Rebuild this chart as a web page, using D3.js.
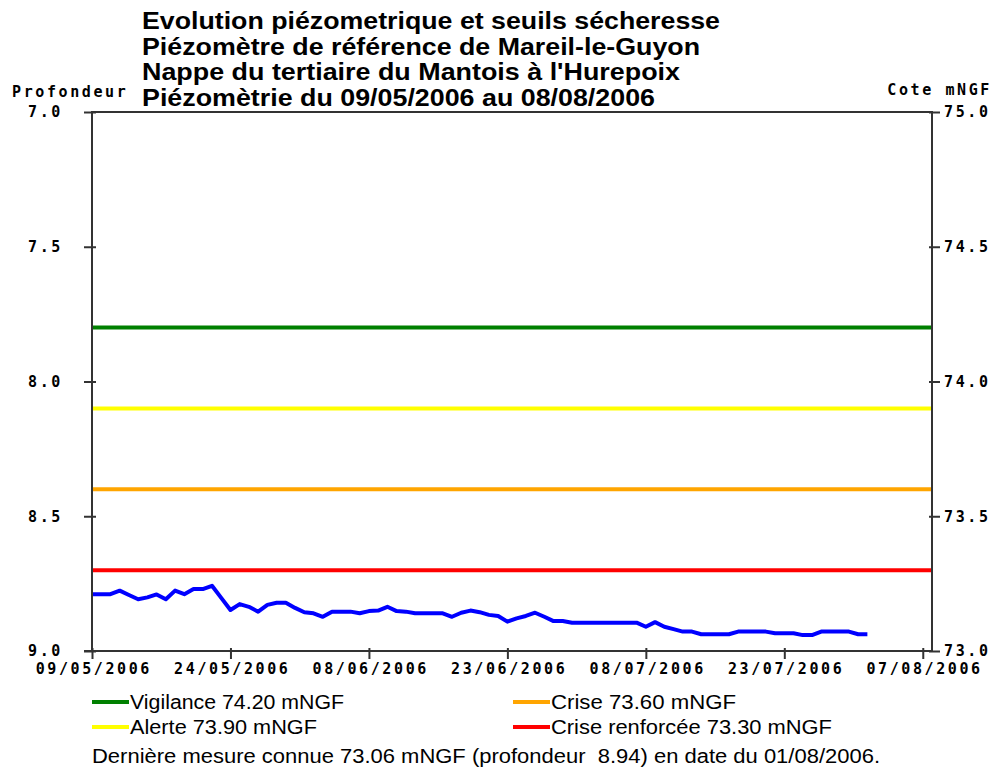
<!DOCTYPE html>
<html><head><meta charset="utf-8">
<script src="https://cdn.jsdelivr.net/npm/d3@7"></script>
<style>
body{margin:0;background:#fff}
svg{display:block}
.mono{font-family:"DejaVu Sans Mono",monospace;font-weight:bold;font-size:15px;letter-spacing:2.6px;fill:#000}
.title{font-family:"Liberation Sans",Arial,sans-serif;font-weight:bold;font-size:23px;fill:#000}
.leg{font-family:"Liberation Sans",Arial,sans-serif;font-size:20px;fill:#000;white-space:pre}
</style>
</head><body>
<svg id="c" width="995" height="767"></svg>
<script>
// ---- data ----
const titleLines = [
  "Evolution piézometrique et seuils sécheresse",
  "Piézomètre de référence de Mareil-le-Guyon",
  "Nappe du tertiaire du Mantois à l'Hurepoix",
  "Piézomètrie du 09/05/2006 au 08/08/2006"
];
const leftAxisTitle = "Profondeur";
const rightAxisTitle = "Cote mNGF";
const domainStart = "09/05/2006";
const domainEnd = "08/08/2006";
const tickDates = ["09/05/2006","24/05/2006","08/06/2006","23/06/2006","08/07/2006","23/07/2006","07/08/2006"];
const depthTicks = [7.0, 7.5, 8.0, 8.5, 9.0];
const coteTicks = [75.0, 74.5, 74.0, 73.5, 73.0];
const thresholdNames = ["Vigilance", "Alerte", "Crise", "Crise renforcée"];
const thresholdValues = [74.20, 73.90, 73.60, 73.30];
const thresholdColors = ["#008000", "#ffff00", "#ffa500", "#ff0000"];
const firstMeasureDate = "09/05/2006";
// daily water level (mNGF), from 09/05/2006 to 01/08/2006
const levels = [
  73.211,73.211,73.211,73.224,73.208,73.192,73.199,73.210,73.192,73.224,
  73.211,73.230,73.230,73.242,73.197,73.152,73.174,73.164,73.146,73.171,
  73.179,73.179,73.160,73.144,73.140,73.127,73.146,73.146,73.146,73.140,
  73.148,73.150,73.164,73.148,73.146,73.140,73.140,73.140,73.140,73.127,
  73.142,73.150,73.144,73.134,73.130,73.109,73.121,73.130,73.142,73.127,
  73.111,73.111,73.105,73.105,73.105,73.105,73.105,73.105,73.105,73.105,
  73.090,73.107,73.090,73.081,73.072,73.072,73.062,73.062,73.062,73.062,
  73.072,73.072,73.072,73.072,73.066,73.066,73.066,73.059,73.059,73.072,
  73.072,73.072,73.072,73.062,73.062
];
const footerText = "Dernière mesure connue 73.06 mNGF (profondeur  8.94) en date du 01/08/2006.";

// ---- layout ----
const W = 995, H = 767;
const m = {left: 92, right: 63, top: 112, bottom: 116};
const svg = d3.select("#c");
const parse = d3.timeParse("%d/%m/%Y");
const fmt = d3.timeFormat("%d/%m/%Y");

const x = d3.scaleTime().domain([parse(domainStart), parse(domainEnd)]).range([m.left, W - m.right]);
const yDepth = d3.scaleLinear().domain([7, 9]).range([m.top, H - m.bottom]);
const yCote = d3.scaleLinear().domain([75, 73]).range([m.top, H - m.bottom]);

const start = parse(firstMeasureDate);
const series = levels.map((v, i) => ({date: d3.timeDay.offset(start, i), v}));

// thresholds
svg.append("g").selectAll("line").data(thresholdValues).join("line")
  .attr("x1", m.left + 1).attr("x2", W - m.right - 1)
  .attr("y1", d => yCote(d)).attr("y2", d => yCote(d))
  .attr("stroke", (d, i) => thresholdColors[i]).attr("stroke-width", 4);

// series line
svg.append("path").datum(series)
  .attr("fill", "none").attr("stroke", "#0000ff").attr("stroke-width", 4)
  .attr("stroke-linejoin", "round")
  .attr("d", d3.line().x(d => x(d.date)).y(d => yCote(d.v)));

// frame
const axisColor = "#333";
svg.append("rect").attr("x", m.left).attr("y", m.top)
  .attr("width", W - m.left - m.right).attr("height", H - m.top - m.bottom)
  .attr("fill", "none").attr("stroke", axisColor).attr("stroke-width", 2);

// axes
function styleAxis(g){
  g.select(".domain").remove();
  g.selectAll(".tick line").attr("stroke", axisColor).attr("stroke-width", 2);
  g.selectAll(".tick text").attr("class", "mono").attr("font-size", null).attr("font-family", null);
}
const gl = svg.append("g").attr("transform", `translate(${m.left},0)`)
  .call(d3.axisLeft(yDepth).tickValues(depthTicks).tickFormat(d3.format(".1f")).tickSize(8).tickPadding(21))
  .call(styleAxis);
gl.selectAll(".tick line").attr("x2", -8).attr("x1", 4);

const gr = svg.append("g").attr("transform", `translate(${W - m.right},0)`)
  .call(d3.axisRight(yCote).tickValues(coteTicks).tickFormat(d3.format(".1f")).tickSize(8).tickPadding(4))
  .call(styleAxis);
gr.selectAll(".tick line").attr("x1", -3).attr("x2", 8);

const gb = svg.append("g").attr("transform", `translate(0,${H - m.bottom})`)
  .call(d3.axisBottom(x).tickValues(tickDates.map(parse)).tickFormat(fmt).tickSize(8).tickPadding(4))
  .call(styleAxis);
gb.selectAll(".tick line").attr("y1", -3).attr("y2", 8);
gb.selectAll(".tick text").attr("dx", "1.3px");
svg.append("line").attr("x1", m.left - 8).attr("x2", m.left).attr("y1", H - m.bottom).attr("y2", H - m.bottom)
  .attr("stroke", axisColor).attr("stroke-width", 2);

// axis titles
svg.append("text").attr("class", "mono").attr("x", 12).attr("y", 97).text(leftAxisTitle);
svg.append("text").attr("class", "mono").attr("x", 992).attr("y", 95).attr("text-anchor", "end").text(rightAxisTitle);

// title
const titleWidths = [578, 558, 538, 513];
svg.append("g").selectAll("text").data(titleLines).join("text")
  .attr("class", "title").attr("x", 142).attr("y", (d, i) => 29 + i * 25.5)
  .attr("textLength", (d, i) => titleWidths[i]).attr("lengthAdjust", "spacingAndGlyphs")
  .text(d => d);

// legend
const legendWidths = [214, 187, 185, 281];
const legendItems = thresholdNames.map((n, i) => ({
  label: `${n} ${thresholdValues[i].toFixed(2)} mNGF`, color: thresholdColors[i],
  col: i < 2 ? 0 : 1, row: i % 2, w: legendWidths[i]
}));
const lg = svg.append("g").selectAll("g").data(legendItems).join("g")
  .attr("transform", d => `translate(${d.col === 0 ? 92 : 513},${702 + d.row * 25})`);
lg.append("line").attr("x1", 0).attr("x2", 37).attr("y1", 0).attr("y2", 0)
  .attr("stroke", d => d.color).attr("stroke-width", 4);
lg.append("text").attr("class", "leg").attr("x", 38).attr("y", 7)
  .attr("textLength", d => d.w).attr("lengthAdjust", "spacingAndGlyphs").text(d => d.label);

svg.append("text").attr("class", "leg").attr("x", 92).attr("y", 763)
  .attr("textLength", 788).attr("lengthAdjust", "spacingAndGlyphs").text(footerText);
</script>
</body></html>
